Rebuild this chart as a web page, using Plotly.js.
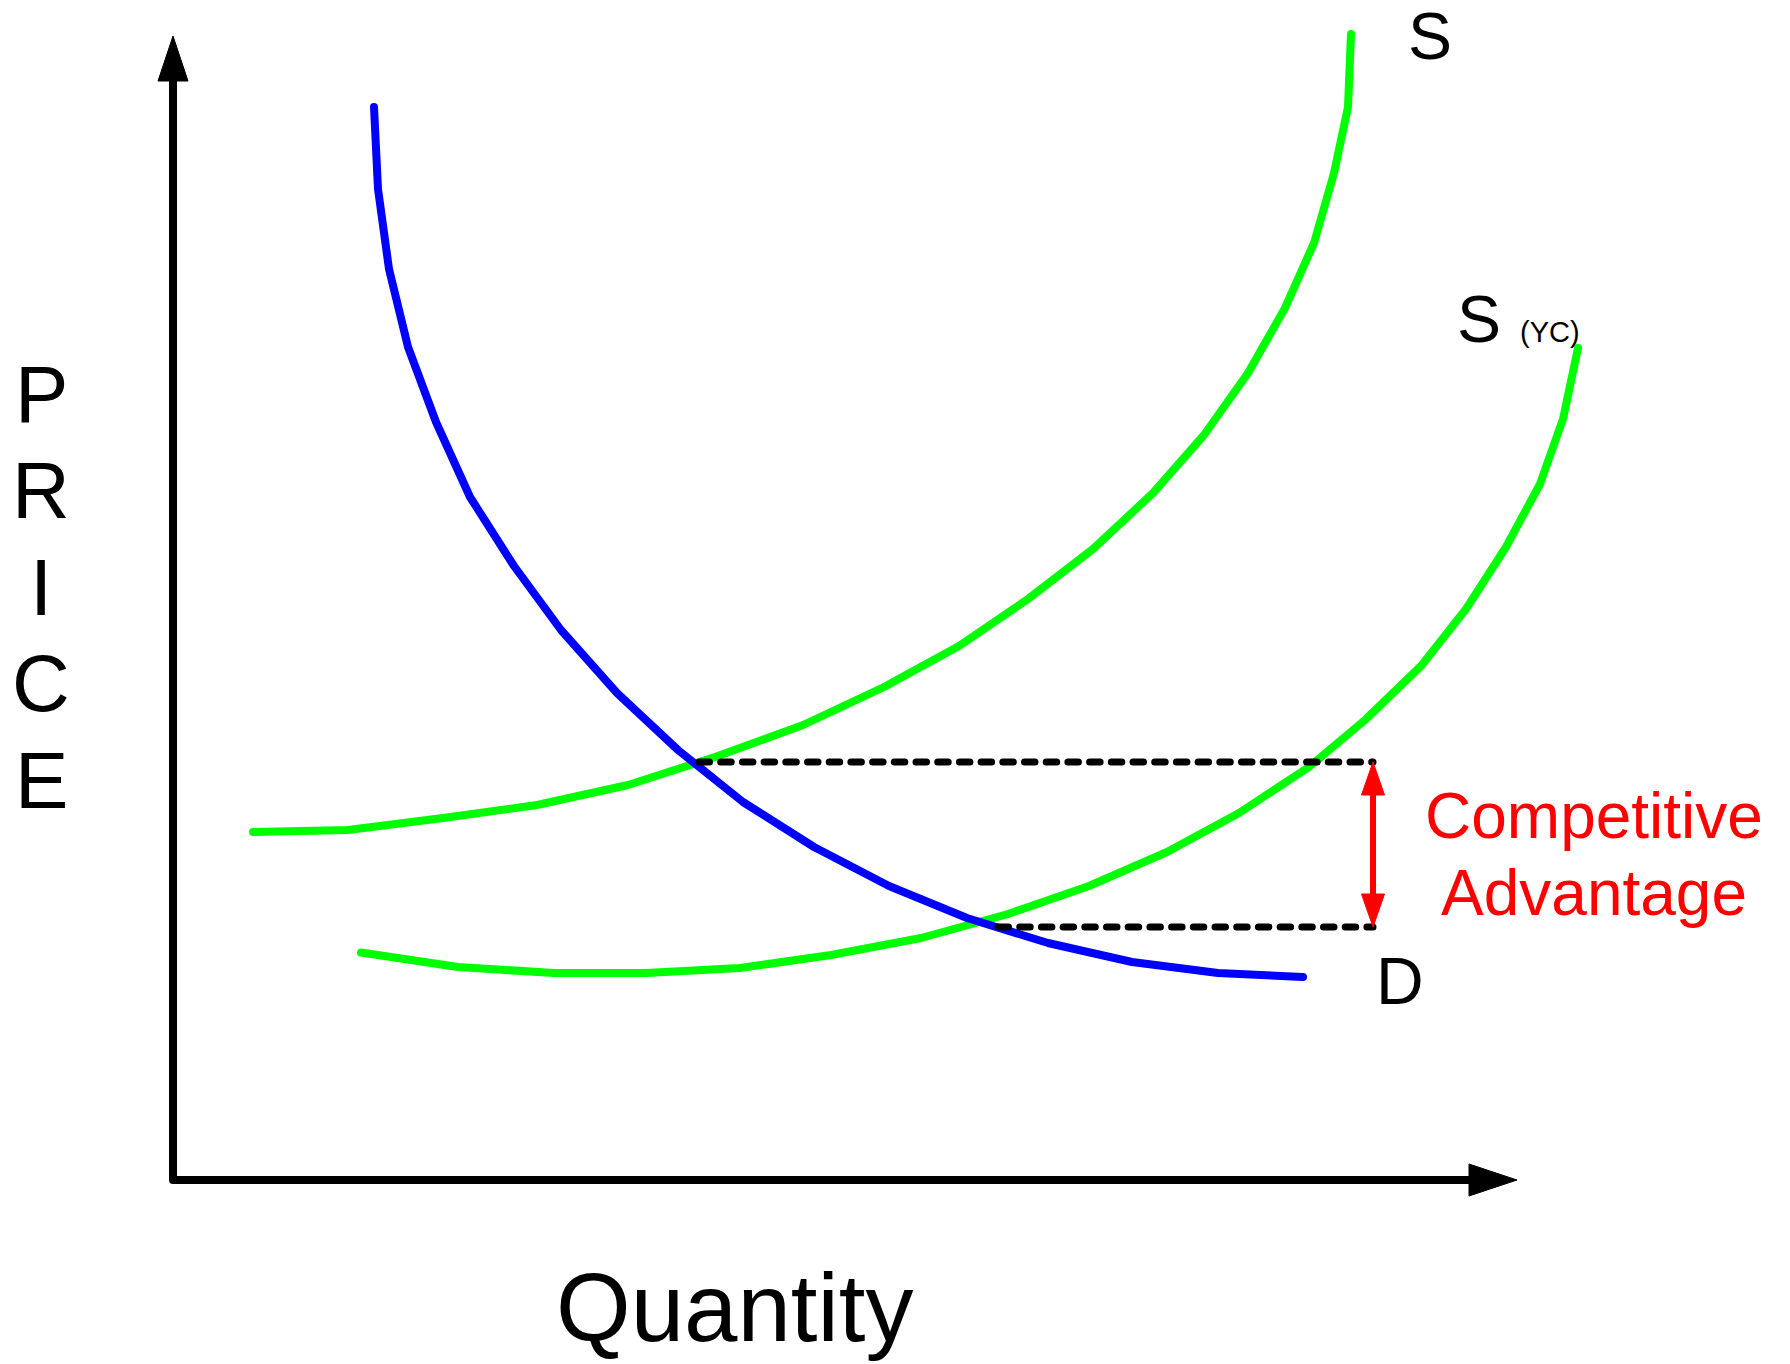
<!DOCTYPE html>
<html>
<head>
<meta charset="utf-8">
<script src="https://cdn.plot.ly/plotly-3.0.1.min.js"></script>
<style>
html, body { margin: 0; padding: 0; background: #ffffff; }
#chart { width: 1790px; height: 1364px; }
#chart .js-line { stroke-linecap: round; stroke-linejoin: round; }
#chart .shapelayer path { stroke-linejoin: round; }
</style>
</head>
<body>
<div id="chart"></div>
<script>
// ---- Data (quantity / price units, origin at the axes corner) ----
const demandQ = [20.1, 20.5, 21.6, 23.5, 26.3, 29.7, 34.1, 38.8, 44.4, 50.5, 57.0, 64.1, 71.6, 79.4, 87.5, 95.9, 104.5, 113.0];
const demandP = [107.3, 99.1, 91.1, 83.3, 75.8, 68.3, 61.4, 55.0, 48.7, 43.0, 37.8, 33.3, 29.4, 26.2, 23.7, 21.8, 20.7, 20.3];

const supplyQ = [8.0, 17.5, 27.0, 36.4, 45.5, 54.2, 63.0, 71.1, 78.6, 85.5, 92.0, 98.0, 103.1, 107.5, 111.2, 114.1, 116.1, 117.5, 117.8];
const supplyP = [34.8, 35.0, 36.2, 37.5, 39.5, 42.3, 45.5, 49.3, 53.4, 58.1, 63.1, 68.7, 74.5, 80.7, 87.2, 93.7, 100.7, 107.3, 114.6];

const supplyYcQ = [18.8, 28.5, 38.1, 47.3, 56.7, 65.8, 74.8, 83.5, 91.6, 99.4, 106.6, 113.6, 119.2, 124.8, 129.3, 133.3, 136.7, 139.0, 140.5];
const supplyYcP = [22.75, 21.3, 20.7, 20.7, 21.2, 22.5, 24.2, 26.6, 29.4, 32.8, 36.7, 41.3, 46.0, 51.4, 57.1, 63.3, 69.6, 76.1, 83.2];

// equilibrium price levels (dashed guides) and where each guide starts / ends
const levelP = [41.8, 25.3];
const levelStartQ = [52.6, 82.5];
const levelEndQ = [120.0, 120.0];

// text
const yTitleLetters = ['P', 'R', 'I', 'C', 'E'];
const xTitle = 'Quantity';
const curveNames = ['S', 'S', '(YC)', 'D'];
const gapText = ['Competitive', 'Advantage'];

// axis extents (arrow geometry)
const axisLenQ = 129.6, axisTipQ = 134.4;
const axisLenP = 109.9, axisTipP = 114.4;

// ---- Traces ----
const traces = [
  { x: supplyQ, y: supplyP, mode: 'lines', line: { color: '#00ff00', width: 8 }, hoverinfo: 'skip' },
  { x: supplyYcQ, y: supplyYcP, mode: 'lines', line: { color: '#00ff00', width: 8 }, hoverinfo: 'skip' },
  { x: demandQ, y: demandP, mode: 'lines', line: { color: '#0000ff', width: 8 }, hoverinfo: 'skip' }
];
levelP.forEach((p, i) => {
  traces.push({
    x: [levelStartQ[i], levelEndQ[i]], y: [p, p], mode: 'lines',
    line: { color: '#000000', width: 7, dash: '10.5px,11.2px' }, hoverinfo: 'skip'
  });
});

// ---- Shapes: axes with arrowheads, red double arrow ----
const shapes = [];
shapes.push({
  type: 'path', xref: 'x', yref: 'y',
  path: `M 0,${axisLenP} L 0,0 L ${axisLenQ},0`,
  line: { color: '#000000', width: 8 }
});
shapes.push({
  type: 'path', xref: 'x', yref: 'y',
  path: `M -1.5,${axisLenP} L 0,${axisTipP} L 1.5,${axisLenP} Z`,
  fillcolor: '#000000', line: { color: '#000000', width: 1 }
});
shapes.push({
  type: 'path', xref: 'x', yref: 'y',
  path: `M ${axisLenQ},-1.6 L ${axisTipQ},0 L ${axisLenQ},1.6 Z`,
  fillcolor: '#000000', line: { color: '#000000', width: 1 }
});
const ax = levelEndQ[0];
const head = 3.3, hw = 1.15;
shapes.push({
  type: 'line', xref: 'x', yref: 'y',
  x0: ax, x1: ax, y0: levelP[0] - head + 0.3, y1: levelP[1] + head - 0.3,
  line: { color: '#ff0000', width: 6 }
});
shapes.push({
  type: 'path', xref: 'x', yref: 'y',
  path: `M ${ax - hw},${levelP[0] - head} L ${ax},${levelP[0]} L ${ax + hw},${levelP[0] - head} Z`,
  fillcolor: '#ff0000', line: { color: '#ff0000', width: 1 }
});
shapes.push({
  type: 'path', xref: 'x', yref: 'y',
  path: `M ${ax - hw},${levelP[1] + head} L ${ax},${levelP[1]} L ${ax + hw},${levelP[1] + head} Z`,
  fillcolor: '#ff0000', line: { color: '#ff0000', width: 1 }
});

// ---- Annotations ----
const FONT = '"Liberation Sans", Arial, Helvetica, sans-serif';
const annotations = [];
const letterY = [78.6, 69.0, 59.3, 49.7, 40.0];
yTitleLetters.forEach((ch, i) => {
  annotations.push({ x: -13.2, y: letterY[i], xref: 'x', yref: 'y', text: ch, showarrow: false,
    xanchor: 'center', yanchor: 'middle', font: { family: FONT, size: 80, color: '#000000' } });
});
annotations.push({ x: 56.2, y: -12.75, xref: 'x', yref: 'y', text: xTitle, showarrow: false,
  xanchor: 'center', yanchor: 'middle', font: { family: FONT, size: 96, color: '#000000' } });
annotations.push({ x: 125.65, y: 114.4, xref: 'x', yref: 'y', text: curveNames[0], showarrow: false,
  xanchor: 'center', yanchor: 'middle', font: { family: FONT, size: 66, color: '#000000' } });
annotations.push({ x: 130.6, y: 86.1, xref: 'x', yref: 'y', text: curveNames[1], showarrow: false,
  xanchor: 'center', yanchor: 'middle', font: { family: FONT, size: 66, color: '#000000' } });
annotations.push({ x: 137.65, y: 84.8, xref: 'x', yref: 'y', text: curveNames[2], showarrow: false,
  xanchor: 'center', yanchor: 'middle', font: { family: FONT, size: 29, color: '#000000' } });
annotations.push({ x: 122.7, y: 19.9, xref: 'x', yref: 'y', text: curveNames[3], showarrow: false,
  xanchor: 'center', yanchor: 'middle', font: { family: FONT, size: 66, color: '#000000' } });
annotations.push({ x: 142.1, y: 36.4, xref: 'x', yref: 'y', text: gapText[0], showarrow: false,
  xanchor: 'center', yanchor: 'middle', font: { family: FONT, size: 64, color: '#ff0000' } });
annotations.push({ x: 142.1, y: 28.7, xref: 'x', yref: 'y', text: gapText[1], showarrow: false,
  xanchor: 'center', yanchor: 'middle', font: { family: FONT, size: 64, color: '#ff0000' } });

const layout = {
  width: 1790, height: 1364, autosize: false,
  margin: { l: 0, r: 0, t: 0, b: 0, pad: 0 },
  paper_bgcolor: '#ffffff', plot_bgcolor: '#ffffff',
  showlegend: false, hovermode: false,
  xaxis: { range: [-17.3, 161.7], visible: false, fixedrange: true },
  yaxis: { range: [-18.4, 118.0], visible: false, fixedrange: true },
  shapes: shapes,
  annotations: annotations
};

Plotly.newPlot('chart', traces, layout, { displayModeBar: false, staticPlot: true });
</script>
</body>
</html>
